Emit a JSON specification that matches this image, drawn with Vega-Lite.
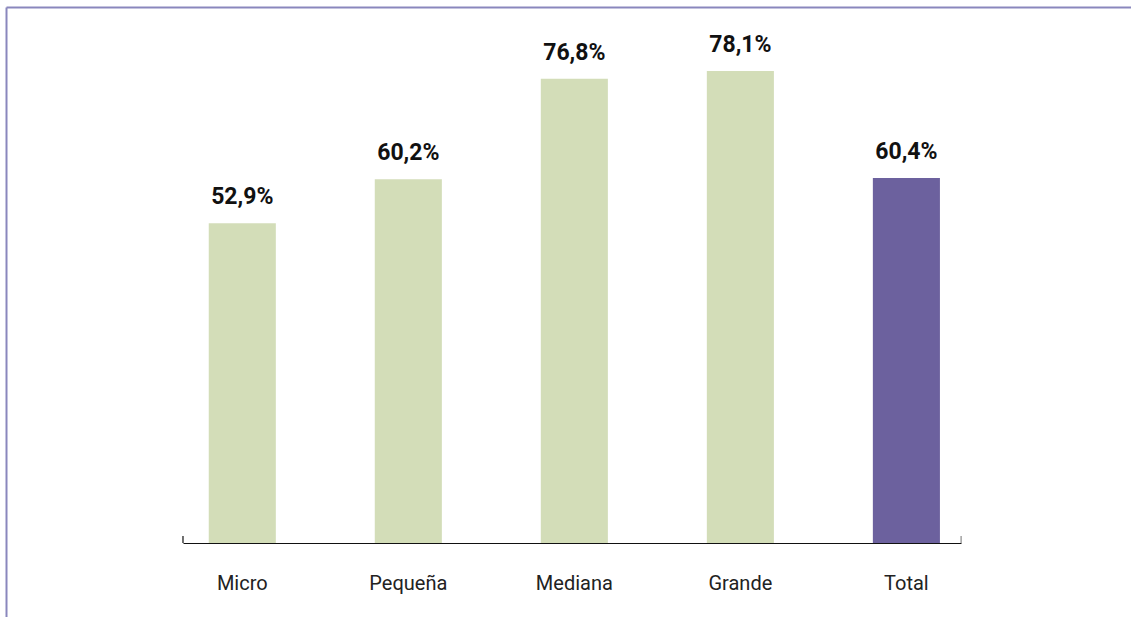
{
  "$schema": "https://vega.github.io/schema/vega-lite/v6.json",
  "width": 1125,
  "height": 610,
  "autosize": {"type": "none"},
  "padding": {"left": 6, "top": 7, "right": 0, "bottom": 0},
  "background": "white",
  "config": {
    "view": {"stroke": null},
    "font": "Roboto",
    "locale": {"number": {"decimal": ",", "thousands": ".", "grouping": [3], "currency": ["", " €"]}}
  },
  "data": {
    "values": [
      {"cat": "Micro", "value": 0.529},
      {"cat": "Pequeña", "value": 0.602},
      {"cat": "Mediana", "value": 0.768},
      {"cat": "Grande", "value": 0.781},
      {"cat": "Total", "value": 0.604}
    ]
  },
  "resolve": {"scale": {"x": "independent"}, "axis": {"x": "independent"}},
  "layer": [
    {
      "layer": [
        {
          "mark": {"type": "bar"},
          "encoding": {
            "x": {
              "field": "cat", "type": "nominal", "sort": null,
              "scale": {"range": [177, 955], "paddingInner": 0.596, "paddingOuter": 0.141, "align": 0.55},
              "axis": {"orient": "bottom", "offset": -74, "domain": true, "domainColor": "#111111", "domainWidth": 1.2,
                       "ticks": false, "title": null,
                       "labelAngle": 0, "labelFontSize": 20, "labelColor": "#222222", "labelFont": "Roboto", "labelPadding": 30}
            },
            "y": {
              "field": "value", "type": "quantitative",
              "scale": {"domain": [-0.1224, 0.8868], "nice": false, "zero": false},
              "axis": {"orient": "left", "domainColor": "#8a87bd", "domainWidth": 2, "labels": false, "ticks": false, "grid": false, "title": null}
            },
            "y2": {"datum": 0},
            "color": {
              "field": "cat", "type": "nominal",
              "scale": {"domain": ["Micro", "Pequeña", "Mediana", "Grande", "Total"],
                        "range": ["#d3ddb8", "#d3ddb8", "#d3ddb8", "#d3ddb8", "#6c619e"]},
              "legend": null
            }
          }
        },
        {
          "mark": {"type": "text", "dy": -19, "fontSize": 23, "fontWeight": "bold", "font": "Roboto", "color": "#111111", "baseline": "alphabetic"},
          "encoding": {
            "x": {"field": "cat", "type": "nominal", "sort": null},
            "y": {"field": "value", "type": "quantitative"},
            "text": {"field": "value", "type": "quantitative", "format": ".1%"}
          }
        },
        {
          "transform": [{"filter": "datum.cat === 'Micro'"}],
          "mark": {"type": "rule", "color": "#111111", "strokeWidth": 1.2, "xOffset": -59.3, "y2Offset": -7},
          "encoding": {
            "x": {"field": "cat", "type": "nominal", "sort": null},
            "y": {"datum": 0, "type": "quantitative"},
            "y2": {"datum": 0}
          }
        },
        {
          "transform": [{"filter": "datum.cat === 'Total'"}],
          "mark": {"type": "rule", "color": "#888888", "strokeWidth": 1.2, "xOffset": 54.7, "y2Offset": -7},
          "encoding": {
            "x": {"field": "cat", "type": "nominal", "sort": null},
            "y": {"datum": 0, "type": "quantitative"},
            "y2": {"datum": 0}
          }
        }
      ]
    },
    {
      "mark": {"type": "rule", "opacity": 0},
      "encoding": {
        "x": {"datum": "frame", "type": "nominal",
              "axis": {"orient": "top", "domainColor": "#8a87bd", "domainWidth": 2, "labels": false, "ticks": false, "title": null}},
        "y": {"datum": 0, "type": "quantitative"}
      }
    }
  ]
}
